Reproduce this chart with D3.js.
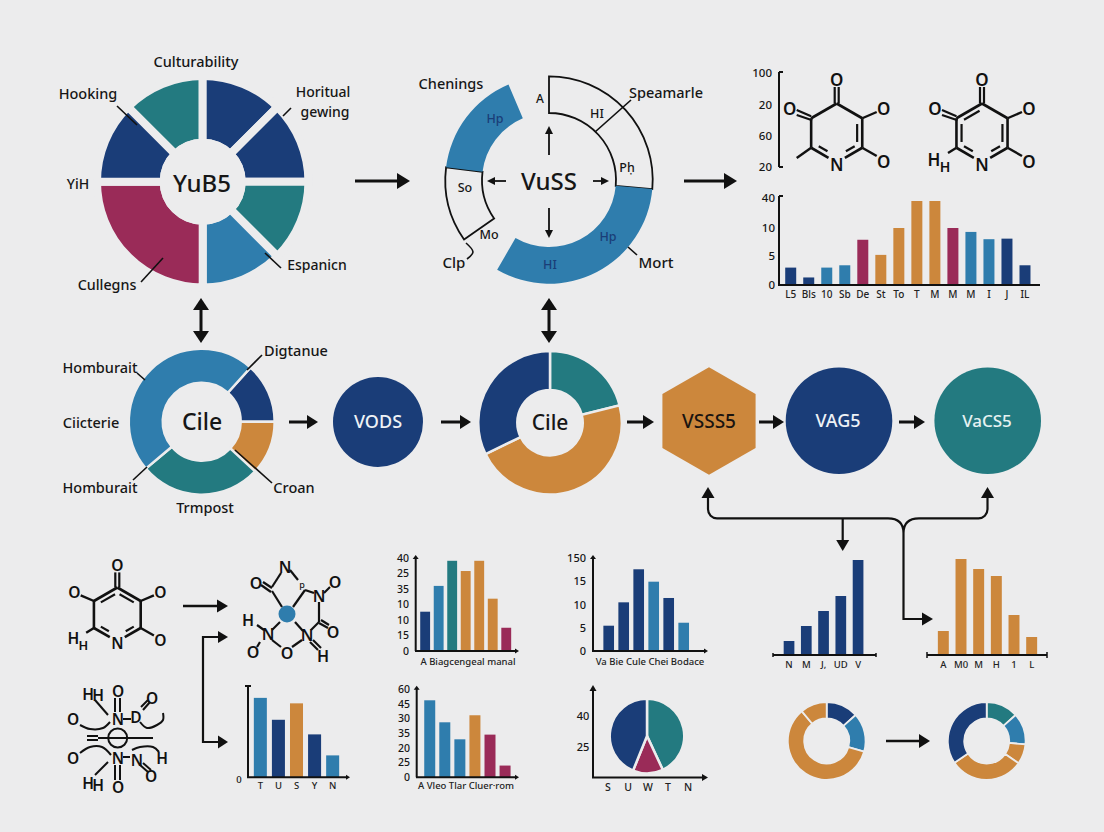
<!DOCTYPE html>
<html>
<head>
<meta charset="utf-8">
<script src="https://cdn.jsdelivr.net/npm/d3@7"></script>
<style>
  html, body { margin: 0; padding: 0; background: #ececed; }
  svg { display: block; }
  text { font-family: "Noto Sans", sans-serif; fill: #161616; }
</style>
</head>
<body>
<div id="chart"></div>
<script>
// colours
const navy = "#1a3d78", teal = "#237a80", blue = "#2f7dad", orange = "#cc873c", wine = "#9a2b58";
const ink = "#111", bg = "#ececed";

// ---- data ----
// top left wheel, degrees clockwise from 315
const wheelValues = [45, 45, 45, 45, 45, 90, 45];
const wheelColors = [teal, navy, navy, teal, blue, wine, navy];

// open ring, degrees clockwise from 12 o'clock ("none" = gap, "line" = outlined)
const ringValues = [95, 115, 25, 42, 60, 23];
const ringKinds = ["line", "blue", "none", "line", "blue", "none"];

// middle row donuts
const cileValues = [48, 43, 97, 172];
const cileColors = [navy, orange, teal, blue];
const cile2Values = [76, 168, 116];
const cile2Colors = [teal, orange, navy];

// bottom right donuts
const donutAValues = [48, 58, 214, 40];
const donutAColors = [navy, blue, orange, orange];
const donutBValues = [48, 47, 30, 111, 124];
const donutBColors = [teal, blue, orange, orange, navy];

// pie on axes
const pieValues = [155, 47, 158];
const pieColors = [teal, wine, navy];
const pieXLabels = ["S", "U", "W", "T", "N"];
const pieYLabels = ["40", "25"];

// top right bars
const mainBars = [3, 1.3, 3, 3.4, 7.9, 5.2, 10, 37, 37, 10, 9.3, 8, 8.1, 3.4];
const mainColors = [navy, navy, blue, blue, wine, orange, orange, orange, orange, wine, blue, blue, navy, navy];
const mainLabels = ["L5", "Bls", "10", "Sb", "De", "St", "To", "T", "M", "M", "M", "I", "J", "IL"];
const mainTicks = [0, 5, 10, 40];

// scale beside the first molecule
const moleculeScale = ["20", "60", "20", "100"];

// small bars
const barsA = [16.9, 28, 38.8, 34.4, 38.8, 22.5, 10];
const barsAColors = [navy, blue, teal, orange, orange, orange, wine];
const barsATicks = ["0", "15", "10", "10", "35", "25", "40"];

const barsB = [40.8, 78.5, 131.8, 111.8, 85.5, 45.6];
const barsBColors = [navy, navy, navy, blue, navy, blue];
const barsBTicks = ["0", "5", "10", "15", "150"];

const barsC = [52.5, 37.5, 25.9, 42.3, 29.1, 8];
const barsCColors = [blue, blue, blue, orange, wine, wine];
const barsCTicks = ["0", "25", "20", "35", "30", "45", "60"];

const barsD = [87, 63, 81, 47, 24];
const barsDColors = [blue, navy, orange, navy, blue];
const barsDLabels = ["T", "U", "S", "Y", "N"];

const barsE = [14, 29, 44, 59, 95];
const barsELabels = ["N", "M", "J,", "UD", "V"];

const barsF = [24, 96, 86, 79, 40, 18];
const barsFLabels = ["A", "M0", "M", "H", "1", "L"];

// ---- svg ----
const svg = d3.select("#chart")
    .append("svg")
    .attr("width", 1104)
    .attr("height", 832);

svg.append("rect")
    .attr("width", 1104)
    .attr("height", 832)
    .attr("fill", bg);

// ---- helpers ----
function label(txt, x, y, size = 15, fill = "#161616", anchor = "middle", weight = 500) {
    return svg.append("text")
        .attr("x", x)
        .attr("y", y)
        .attr("text-anchor", anchor)
        .attr("dominant-baseline", "central")
        .attr("font-size", size)
        .attr("font-weight", weight)
        .style("fill", fill)
        .text(txt);
}

function line(x1, y1, x2, y2, w = 1.6) {
    svg.append("line")
        .attr("x1", x1).attr("y1", y1)
        .attr("x2", x2).attr("y2", y2)
        .attr("stroke", ink)
        .attr("stroke-width", w);
}

// filled arrow head with its tip at x,y
function head(x, y, angle, len = 12, wid = 14) {
    svg.append("path")
        .attr("d", `M0,0L${-len},${-wid / 2}L${-len},${wid / 2}Z`)
        .attr("fill", ink)
        .attr("transform", `translate(${x},${y}) rotate(${angle * 180 / Math.PI})`);
}

function arrow(x1, y1, x2, y2, w = 3, len = 12, wid = 14, both = false) {
    const a = Math.atan2(y2 - y1, x2 - x1);
    const cx = Math.cos(a) * (len - 1), cy = Math.sin(a) * (len - 1);
    line(both ? x1 + cx : x1, both ? y1 + cy : y1, x2 - cx, y2 - cy, w);
    head(x2, y2, a, len, wid);
    if (both) head(x1, y1, a + Math.PI, len, wid);
}

function curve(points, w = 2) {
    svg.append("path")
        .attr("d", d3.line().curve(d3.curveCatmullRom)(points))
        .attr("fill", "none")
        .attr("stroke", ink)
        .attr("stroke-width", w);
}

// donut or pie from d3.pie, values run clockwise from startDeg
function donut(cx, cy, inner, outer, values, colors, startDeg = 0, gap = 2.5) {
    const start = startDeg * Math.PI / 180;
    const pie = d3.pie().sort(null).startAngle(start).endAngle(start + 2 * Math.PI);
    const arc = d3.arc().innerRadius(inner).outerRadius(outer + gap / 2);
    svg.append("g")
        .attr("transform", `translate(${cx},${cy})`)
        .selectAll("path")
        .data(pie(values))
        .enter()
        .append("path")
        .attr("d", arc)
        .attr("fill", (d, i) => colors[i])
        .attr("stroke", bg)
        .attr("stroke-width", gap);
}

// bar chart: frame holds the pixel box, everything else goes through scales
function bars(f, values, colors, xLabels) {
    const x = d3.scaleBand()
        .domain(d3.range(values.length))
        .range([f.left, f.right])
        .paddingInner(f.pad)
        .paddingOuter(f.pad / 2);
    const y = d3.scaleLinear().domain(f.domain).range(f.range);

    svg.append("g")
        .selectAll("rect")
        .data(values)
        .enter()
        .append("rect")
        .attr("x", (d, i) => x(i))
        .attr("y", d => y(d))
        .attr("width", x.bandwidth())
        .attr("height", d => f.base - y(d))
        .attr("fill", (d, i) => Array.isArray(colors) ? colors[i] : colors);

    if (xLabels) {
        const ax = svg.append("g")
            .attr("transform", `translate(0,${f.base})`)
            .call(d3.axisBottom(x).tickSize(0).tickPadding(f.labelPad || 6).tickFormat(i => xLabels[i]));
        ax.select(".domain").remove();
        ax.selectAll("text").attr("font-size", f.labelSize || 10).attr("font-weight", 500).style("fill", "#222");
    }
    return y;
}

// evenly spaced y labels, the labels in the picture are not in order
function yLabels(labels, x, bottom, top, size = 11) {
    const y = d3.scalePoint().domain(d3.range(labels.length)).range([bottom, top]);
    const ax = svg.append("g")
        .attr("transform", `translate(${x},0)`)
        .call(d3.axisLeft(y).tickSize(0).tickPadding(4).tickFormat(i => labels[i]));
    ax.select(".domain").remove();
    ax.selectAll("text").attr("font-size", size).attr("font-weight", 500).style("fill", "#161616");
}

// six member ring with the N at the bottom
function pyridine(cx, cy, r, o) {
    const k = r / 29.5;
    const v = d3.range(6).map(i => {
        const a = i * Math.PI / 3;
        return [cx + r * Math.sin(a), cy - r * Math.cos(a)];
    });
    const trim = (p, q, t) => [p[0] + (q[0] - p[0]) * t, p[1] + (q[1] - p[1]) * t];

    [[0, 1], [1, 2], [4, 5], [5, 0]].forEach(([a, b]) => line(v[a][0], v[a][1], v[b][0], v[b][1], 2.6));
    [[2, 3], [4, 3]].forEach(([a, b]) => {
        const e = trim(v[a], v[b], 0.68);
        line(v[a][0], v[a][1], e[0], e[1], 2.6);
    });
    // inner double bond strokes
    o.inner.forEach(([a, b]) => {
        const p = trim(v[a], [cx, cy], 0.2), q = trim(v[b], [cx, cy], 0.2);
        const s = trim(p, q, 0.12), e = trim(p, q, b === 3 ? 0.55 : 0.88);
        line(s[0], s[1], e[0], e[1], 2.2);
    });

    label("N", cx, cy + 31 * k, 17 * k, "#111", "middle", 600);
    // top =O
    line(cx - 2, v[0][1], cx - 2, cy - 46 * k, 2.2);
    line(cx + 2, v[0][1], cx + 2, cy - 46 * k, 2.2);
    label("O", cx, cy - 54 * k, 17 * k, "#111", "middle", 600);
    // right side
    label("O", cx + 47 * k, cy - 25 * k, 17 * k, "#111", "middle", 600);
    line(v[1][0], v[1][1], cx + 40 * k, cy - 21 * k, 2.4);
    label("O", cx + 47 * k, cy + 28 * k, 17 * k, "#111", "middle", 600);
    line(v[2][0], v[2][1], cx + 40 * k, cy + 23 * k, 2.4);
    // upper left
    label("O", cx - 47 * k, cy - 25 * k, 17 * k, "#111", "middle", 600);
    if (o.leftDouble) {
        line(v[5][0], v[5][1] - 2, cx - 40 * k, cy - 23 * k, 2.2);
        line(v[5][0] + 1, v[5][1] + 2, cx - 40 * k, cy - 18 * k, 2.2);
    } else {
        line(v[5][0], v[5][1], cx - 40 * k, cy - 21 * k, 2.4);
    }
    // lower left
    if (o.tail) {
        line(v[4][0], v[4][1], cx - 40 * k, cy + 25 * k, 2.4);
    } else {
        line(v[4][0], v[4][1], cx - 34 * k, cy + 20 * k, 2.4);
        label("H", cx - 48 * k, cy + 26 * k, 17 * k, "#111", "middle", 600);
        label("H", cx - 37 * k, cy + 33 * k, 14 * k, "#111", "middle", 600);
    }
}

// ---- top left wheel ----
donut(202.7, 181.7, 39, 101.7, wheelValues, wheelColors, -45, 8);
svg.append("circle").attr("cx", 202.7).attr("cy", 181.7).attr("r", 43).attr("fill", bg);
label("YuB5", 202, 182, 24);
label("Culturability", 196, 61, 14.5);
label("Hooking", 88, 93, 14.5);
label("Horitual", 323, 91.5, 14);
label("gewing", 325, 111, 14);
label("YiH", 78, 183, 14);
label("Cullegns", 107, 284, 14.3);
label("Espanicn", 317, 264, 14);
line(117, 106, 137, 125);
line(283, 116, 291, 108);
line(141, 282, 163, 258);
line(265, 253, 281, 268);

// ---- open ring ----
const ringPie = d3.pie().sort(null)(ringValues);
const ringArc = d3.arc().innerRadius(67).outerRadius(103.7);
svg.append("g")
    .attr("transform", "translate(549,180)")
    .selectAll("path")
    .data(ringPie.filter((d, i) => ringKinds[i] !== "none"))
    .enter()
    .append("path")
    .attr("d", ringArc)
    .attr("fill", d => ringKinds[d.index] === "blue" ? blue : "none")
    .attr("stroke", d => ringKinds[d.index] === "blue" ? "none" : ink)
    .attr("stroke-width", 1.8);
label("VuSS", 549, 180, 24);
label("Chenings", 451, 83, 14.5);
label("A", 540, 98, 12);
label("HI", 597, 113, 12.5);
label("Speamarle", 666, 92, 14.5);
label("Pḥ", 627, 167, 12.5);
label("So", 465, 187, 12.5);
label("Mo", 489, 234, 12.5);
label("Clp", 454, 262, 15);
label("HI", 550, 264, 12.5, navy);
label("Hp", 608, 236, 12.5, navy);
label("Hp", 495, 118, 12.5, navy);
label("Mort", 656, 262, 15);
line(595, 132, 631, 100);
curve([[466, 243], [473, 252], [467, 259]], 1.6);
line(628, 247, 637, 255);
arrow(549, 155, 549, 126, 1.8, 8, 8);
arrow(549, 208, 549, 238, 1.8, 8, 8);
arrow(506, 181, 487, 181, 1.8, 8, 8);
arrow(593, 181, 609, 181, 1.8, 8, 8);

// ---- top right: molecules and bars ----
line(779, 72, 779, 167, 2);
line(779, 72, 783, 72, 2);
line(779, 167, 783, 167, 2);
yLabels(moleculeScale, 776, 167, 73, 11.5);
pyridine(836.7, 133, 29.5, { inner: [[1, 2], [2, 3], [4, 3]], leftDouble: true, tail: true });
pyridine(982, 133, 29.5, { inner: [[1, 2], [2, 3], [4, 3], [4, 5], [5, 0]], leftDouble: true });

const mainY = bars(
    { left: 781.7, right: 1034, pad: 0.39, base: 285, domain: [0, 5, 10, 40], range: [285, 256, 228, 198], labelSize: 10 },
    mainBars, mainColors, mainLabels);
const mainAxis = svg.append("g")
    .attr("transform", "translate(779,0)")
    .call(d3.axisLeft(mainY).tickValues(mainTicks).tickSize(0).tickPadding(4).tickFormat(d3.format("d")));
mainAxis.select(".domain").remove();
mainAxis.selectAll("text").attr("font-size", 11.5).attr("font-weight", 500).style("fill", "#161616");
line(779, 196, 779, 285, 2);
line(779, 196, 783, 196, 2);
line(778, 285, 1040, 285, 2);

// ---- big arrows, first row ----
arrow(355, 181, 410, 181, 3, 13, 16);
arrow(684, 181, 737, 181, 3, 13, 16);
arrow(201, 298, 201, 343, 3, 12, 16, true);
arrow(549, 298, 549, 343, 3, 12, 16, true);

// ---- middle row ----
donut(201.7, 421.7, 39, 71.7, cileValues, cileColors, 42);
label("Cile", 202, 421, 23);
label("Digtanue", 296, 350, 14.5);
label("Homburait", 100, 367, 14.5);
label("Ciicterie", 91, 422, 14.5);
label("Homburait", 100, 487, 14.5);
label("Croan", 294, 487, 14.5);
label("Trmpost", 205, 507, 14.5);
line(262, 355, 247, 370);
line(137, 373, 145, 380);
line(133, 480, 147, 467);
line(272, 483, 235, 450);
arrow(289, 422, 318, 422, 3, 11, 14);

svg.append("circle").attr("cx", 378).attr("cy", 422).attr("r", 45).attr("fill", navy);
label("VODS", 378, 421, 18, "#eef2f6");
arrow(441, 422, 471, 422, 3, 11, 14);

donut(550, 422.7, 32.7, 70.5, cile2Values, cile2Colors, 0);
label("Cile", 550, 422, 21);
arrow(627, 422, 654, 422, 3, 11, 14);

// hexagon through a radial line
svg.append("path")
    .attr("d", d3.lineRadial().curve(d3.curveLinearClosed)(d3.range(6).map(i => [i * Math.PI / 3, 53.8])))
    .attr("transform", "translate(709,421)")
    .attr("fill", orange);
label("VSSS5", 709, 421, 19, "#1a1410");
arrow(759, 422, 784, 422, 3, 11, 14);

svg.append("circle").attr("cx", 839).attr("cy", 420.7).attr("r", 53.3).attr("fill", navy);
label("VAG5", 838, 420, 18, "#eef2f6");
arrow(899, 422, 925, 422, 3, 11, 14);
svg.append("circle").attr("cx", 987.7).attr("cy", 420.7).attr("r", 53.3).attr("fill", teal);
label("VaCS5", 987, 420, 17, "#e6f2f2");

// ---- connectors under the row ----
const conn = d3.path();
conn.moveTo(708, 498);
conn.arcTo(708, 518.3, 722, 518.3, 9);
conn.lineTo(888, 518.3);
conn.quadraticCurveTo(903.5, 518.3, 903.5, 533);
conn.quadraticCurveTo(903.5, 518.3, 919, 518.3);
conn.arcTo(987.5, 518.3, 987.5, 505, 9);
conn.lineTo(987.5, 498);
conn.moveTo(903.5, 533);
conn.lineTo(903.5, 619);
conn.lineTo(922, 619);
conn.moveTo(842.7, 518.3);
conn.lineTo(842.7, 542);
svg.append("path")
    .attr("d", conn.toString())
    .attr("fill", "none")
    .attr("stroke", ink)
    .attr("stroke-width", 2.2);
head(708, 487, -Math.PI / 2, 11, 13);
head(987.5, 487, -Math.PI / 2, 11, 13);
head(842.7, 551, Math.PI / 2, 11, 13);
head(933, 619, 0, 11, 13);

// ---- bottom left molecules ----
pyridine(117.3, 614.5, 27, { inner: [[5, 0], [0, 1], [4, 3], [2, 3]] });
arrow(183, 606, 228, 606, 2.5, 11, 13);
const elbow = d3.path();
elbow.moveTo(220, 637);
elbow.lineTo(203, 637);
elbow.lineTo(203, 742);
elbow.lineTo(220, 742);
svg.append("path").attr("d", elbow.toString()).attr("fill", "none").attr("stroke", ink).attr("stroke-width", 2.2);
head(228, 637, 0, 10, 12);
head(228, 742, 0, 10, 13);

// molecule with the blue centre
svg.append("circle").attr("cx", 287).attr("cy", 614).attr("r", 8.5).attr("fill", blue);
[["N", 285, 567], ["O", 256, 583], ["N", 319, 596], ["O", 335, 582], ["H", 248, 620], ["N", 268, 634],
 ["N", 307, 635], ["O", 333, 632], ["O", 253, 652], ["O", 287, 653], ["H", 323, 656]]
    .forEach(d => label(d[0], d[1], d[2], 16, "#111", "middle", 600));
label("p", 302, 584, 9);
[[281, 573, 272, 587], [261, 585, 271, 592], [263, 582, 272, 588], [272, 591, 282, 607], [293, 607, 305, 590],
 [305, 590, 314, 593], [290, 570, 298, 580], [319, 602, 319, 622], [319, 622, 311, 630], [319, 623, 328, 628],
 [321, 620, 329, 625], [295, 622, 303, 631], [280, 622, 272, 630], [257, 625, 264, 630], [260, 642, 257, 647],
 [272, 640, 281, 647], [292, 647, 302, 640], [310, 642, 318, 650], [313, 640, 321, 648], [324, 593, 330, 587]]
    .forEach(d => line(d[0], d[1], d[2], d[3], 2.2));

// bottom molecule with the ring in the middle
svg.append("circle").attr("cx", 117.7).attr("cy", 738).attr("r", 9.5).attr("fill", "none").attr("stroke", ink).attr("stroke-width", 2);
[["H", 88, 694], ["H", 98, 695], ["O", 118, 691], ["O", 152, 698], ["N", 118, 719], ["D", 136, 717], ["O", 73, 719],
 ["N", 118, 758], ["N", 137, 760], ["H", 162, 758], ["O", 73, 758], ["O", 151, 776], ["H", 88, 783], ["H", 98, 785], ["O", 118, 787]]
    .forEach(d => label(d[0], d[1], d[2], 15.5, "#111", "middle", 600));
[[98, 738, 153, 738], [87, 736, 98, 736], [87, 740, 98, 740], [115, 698, 115, 712], [120, 698, 120, 712],
 [115, 765, 115, 780], [120, 765, 120, 780], [95, 700, 108, 715], [123, 719, 131, 719], [143, 710, 150, 702],
 [141, 707, 148, 700], [123, 757, 130, 757], [140, 765, 148, 772], [143, 763, 151, 770], [108, 762, 95, 775]]
    .forEach(d => line(d[0], d[1], d[2], d[3], 2));
curve([[80, 725], [90, 729], [103, 728], [110, 722]]);
curve([[140, 722], [147, 728], [157, 725], [163, 720], [163, 713]]);
curve([[80, 753], [90, 747], [102, 747], [111, 755]]);
curve([[132, 750], [140, 747], [153, 747], [159, 752]]);

// ---- bar chart beside the molecules ----
bars({ left: 251.3, right: 341.7, pad: 0.28, base: 777.3, domain: [0, 100], range: [777.3, 686], labelSize: 9.5, labelPad: 5 },
    barsD, barsDColors, barsDLabels);
line(248, 686, 248, 777.3, 2);
line(245, 686, 251, 686, 2);
arrow(247, 777.3, 350, 777.3, 2, 4, 5);
label("0", 239, 779, 9.5);

// ---- bottom centre charts ----
bars({ left: 418.4, right: 513, pad: 0.27, base: 651, domain: [0, 40], range: [651, 558] }, barsA, barsAColors);
yLabels(barsATicks, 413, 651, 558, 10.5);
arrow(415.7, 651, 415.7, 555, 2, 4, 6);
arrow(415, 651, 519, 651, 2, 4, 5);
label("A  Biagcengeal  manal", 468, 661, 9.5, "#222");

bars({ left: 601.2, right: 691.2, pad: 0.29, base: 651, domain: [0, 150], range: [651, 558] }, barsB, barsBColors);
yLabels(barsBTicks, 590, 651, 558, 11);
arrow(593, 651, 593, 555, 2, 4, 6);
arrow(592, 651, 708, 651, 2, 4, 5);
label("Va Bie  Cule  Chei  Bodace", 650, 661, 9.5, "#222");

bars({ left: 422.2, right: 512.6, pad: 0.27, base: 777.3, domain: [0, 60], range: [777.3, 689.3] }, barsC, barsCColors);
yLabels(barsCTicks, 414, 777.3, 689, 10.5);
arrow(416.7, 777.3, 416.7, 685.7, 2, 4, 6);
arrow(416, 777.3, 519, 777.3, 2, 4, 5);
label("A  Vleo  Tlar  Cluer·rom", 466, 785, 9.5, "#222");

// pie sitting on its axes
donut(647, 736, 0, 36, pieValues, pieColors, 0, 2.5);
arrow(593, 777.6, 593, 685, 2, 6, 7);
arrow(592, 777.6, 708, 777.6, 2, 6, 7);
const pieY = d3.scalePoint().domain(pieYLabels).range([715, 746]);
pieYLabels.forEach(d => label(d, 583, pieY(d), 11));
const pieX = d3.scalePoint().domain(pieXLabels).range([608, 688]);
pieXLabels.forEach(d => label(d, pieX(d), 787, 10.5, "#222"));

// ---- bottom right charts ----
bars({ left: 780.4, right: 866.7, pad: 0.38, base: 655, domain: [0, 100], range: [655, 555], labelSize: 9.5, labelPad: 6 },
    barsE, navy, barsELabels);
line(773, 655, 876, 655, 2);
line(773, 653, 773, 657, 1.5);
line(876, 653, 876, 657, 1.5);

bars({ left: 934.5, right: 1040.5, pad: 0.38, base: 655, domain: [0, 100], range: [655, 555], labelSize: 9.5, labelPad: 6 },
    barsF, orange, barsFLabels);
line(927, 655, 1047, 655, 2);
line(927, 652, 927, 658, 1.5);
line(1047, 652, 1047, 658, 1.5);

// ---- bottom right donuts ----
donut(826.7, 741, 22.5, 38, donutAValues, donutAColors, 0, 1.8);
arrow(886, 741, 930, 741, 2.5, 11, 14);
donut(986.7, 741, 22.5, 38, donutBValues, donutBColors, 0, 1.8);
</script>
</body>
</html>
